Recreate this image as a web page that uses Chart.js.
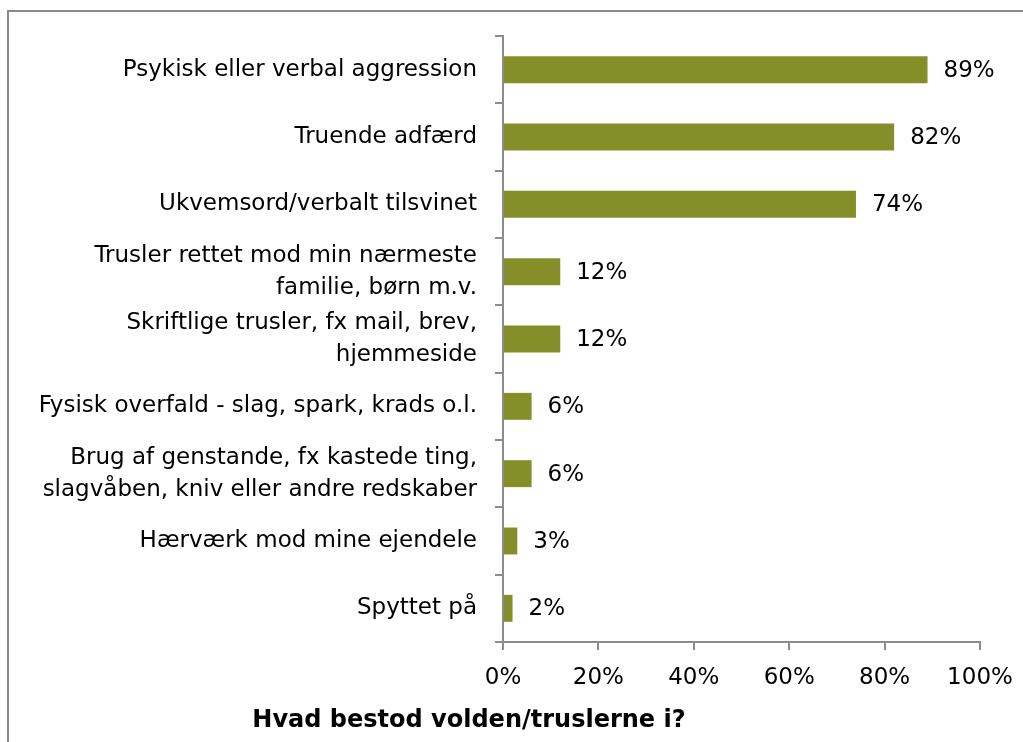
<!DOCTYPE html>
<html>
<head>
<meta charset="utf-8">
<script src="https://cdn.jsdelivr.net/npm/chart.js@4/dist/chart.umd.min.js"></script>
<style>
  html, body { margin: 0; padding: 0; background: #fff; }
  #wrap { width: 1023px; height: 742px; }
</style>
</head>
<body>
<div id="wrap"><canvas id="chart" width="1023" height="742"></canvas></div>
<script>
const categories = [
  'Psykisk eller verbal aggression',
  'Truende adfærd',
  'Ukvemsord/verbalt tilsvinet',
  ['Trusler rettet mod min nærmeste', 'familie, børn m.v.'],
  ['Skriftlige trusler, fx mail, brev,', 'hjemmeside'],
  'Fysisk overfald - slag, spark, krads o.l.',
  ['Brug af genstande, fx kastede ting,', 'slagvåben, kniv eller andre redskaber'],
  'Hærværk mod mine ejendele',
  'Spyttet på'
];
const values = [89, 82, 74, 12, 12, 6, 6, 3, 2];
const xTicks = [0, 20, 40, 60, 80, 100];
const chartTitle = 'Hvad bestod volden/truslerne i?';

const font = 'DejaVu Sans';
const axisGray = '#8c8c8c';

const extras = {
  id: 'extras',
  afterDatasetsDraw(chart) {
    const ctx = chart.ctx;
    const meta = chart.getDatasetMeta(0);
    ctx.save();
    ctx.fillStyle = '#000';
    ctx.font = '23px "' + font + '"';
    ctx.textAlign = 'left';
    ctx.textBaseline = 'middle';
    meta.data.forEach((bar, i) => {
      ctx.fillText(values[i] + '%', bar.x + 16, bar.y + 1);
    });
    ctx.restore();
  },
  afterDraw(chart) {
    const ctx = chart.ctx;
    ctx.save();
    // outer frame (top and left visible)
    ctx.strokeStyle = '#8a8a8a';
    ctx.lineWidth = 2;
    ctx.beginPath();
    ctx.moveTo(8, 760);
    ctx.lineTo(8, 11);
    ctx.lineTo(1030, 11);
    ctx.stroke();
    // bottom title
    ctx.fillStyle = '#000';
    ctx.font = 'bold 24px "' + font + '"';
    ctx.textAlign = 'center';
    ctx.textBaseline = 'alphabetic';
    ctx.fillText(chartTitle, 469, 727);
    ctx.restore();
  }
};

new Chart(document.getElementById('chart').getContext('2d'), {
  type: 'bar',
  data: {
    labels: categories,
    datasets: [{
      data: values,
      backgroundColor: '#858f29',
      borderWidth: 0,
      categoryPercentage: 1,
      barPercentage: 0.4
    }]
  },
  options: {
    indexAxis: 'y',
    responsive: false,
    animation: false,
    layout: { padding: { left: 0, right: 43, top: 36, bottom: 0 } },
    plugins: {
      legend: { display: false },
      tooltip: { enabled: false }
    },
    scales: {
      x: {
        min: 0,
        max: 100,
        afterBuildTicks: s => { s.ticks = xTicks.map(v => ({ value: v })); },
        afterFit: s => { s.height = 100; s.paddingLeft = 0; s.paddingRight = 0; },
        border: { color: axisGray, width: 2 },
        grid: { drawOnChartArea: false, drawTicks: true, tickLength: 8, color: axisGray, lineWidth: 2 },
        ticks: {
          color: '#000',
          padding: 14,
          font: { family: font, size: 23 },
          callback: v => v + '%'
        }
      },
      y: {
        afterFit: s => { s.width = 503; },
        border: { color: axisGray, width: 2 },
        grid: { drawOnChartArea: false, drawTicks: true, tickLength: 8, color: axisGray, lineWidth: 2, offset: true },
        ticks: {
          color: '#000',
          padding: 18,
          font: { family: font, size: 23, lineHeight: 1.39 }
        }
      }
    }
  },
  plugins: [extras]
});
</script>
</body>
</html>
